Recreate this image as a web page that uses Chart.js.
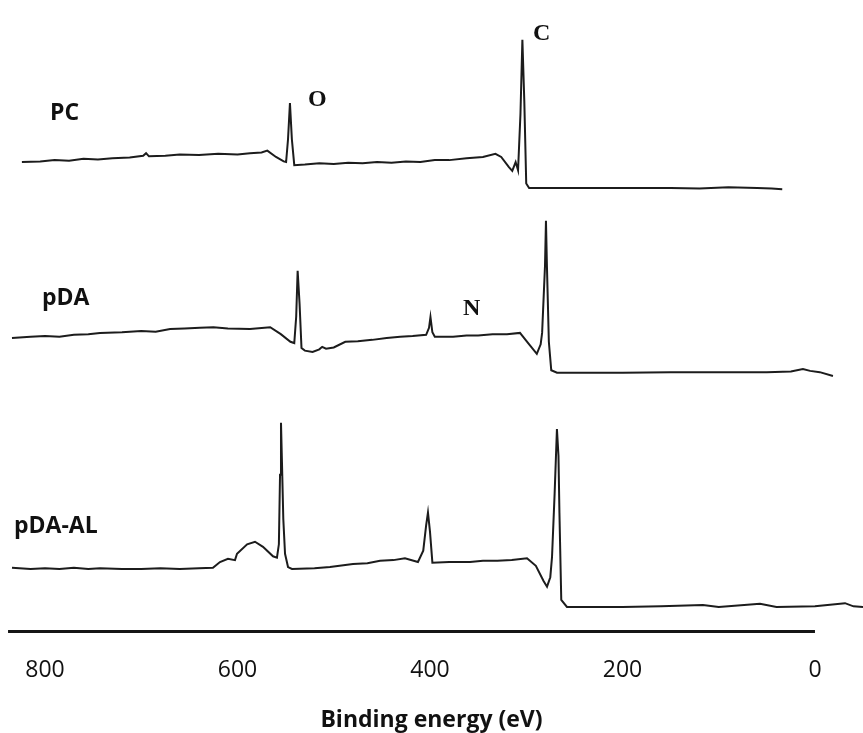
<!DOCTYPE html>
<html>
<head>
<meta charset="utf-8">
<title>XPS survey spectra</title>
<script src="https://cdn.jsdelivr.net/npm/chart.js@4.4.1/dist/chart.umd.min.js"></script>
<style>
  html, body { margin: 0; padding: 0; background: #fff; }
  #wrap { width: 863px; height: 733px; }
</style>
</head>
<body>
<div id="wrap"><canvas id="xpsChart" width="863" height="733"></canvas></div>
<script>
// survey spectra, [binding energy (eV), intensity (a.u., stacked)]
const pcSpectrum = [
  [824, 74.4], [805, 74.5], [790, 74.7], [775, 74.6], [760, 74.9], [745, 74.8], [730, 75.0],
  [712, 75.1], [698, 75.4], [695, 75.8], [692, 75.3], [675, 75.4], [660, 75.6], [640, 75.5],
  [620, 75.7], [600, 75.6], [587, 75.8], [575, 75.9], [569, 76.2], [560, 75.2], [552, 74.5],
  [549.5, 74.4], [547.5, 78.0], [545.5, 83.7], [543.5, 78.0], [541, 73.9], [530, 74.0],
  [515, 74.2], [500, 74.1], [485, 74.3], [470, 74.2], [455, 74.4], [440, 74.3], [425, 74.5],
  [410, 74.4], [395, 74.7], [380, 74.7], [362, 75.0], [345, 75.2], [332, 75.7],
  [326, 75.2], [318, 73.6], [314.5, 73.0], [311, 74.4], [308.5, 73.1], [306, 82.0],
  [304, 93.7], [302, 84.0], [300, 71.0], [297, 70.3], [250, 70.3], [200, 70.3], [150, 70.3],
  [120, 70.2], [90, 70.4], [60, 70.3], [45, 70.2], [34, 70.1]
];

const pdaSpectrum = [
  [834.3, 46.6], [815, 46.8], [800, 46.9], [785, 46.8], [770, 47.1], [755, 47.2], [742.9, 47.4],
  [720, 47.5], [700, 47.7], [685, 47.6], [670, 48.0], [655, 48.1], [639, 48.2], [625, 48.3],
  [610, 48.1], [587, 48.0], [566, 48.3], [555, 47.2], [545, 46.0], [541, 45.8],
  [539, 50.0], [537.5, 57.2], [535.5, 52.0], [533.5, 45.0], [530, 44.6], [522, 44.4],
  [515, 44.8], [512, 45.2], [508, 44.9], [500, 45.1], [488, 46.0], [475, 46.1], [460, 46.3],
  [445, 46.6], [431, 46.8], [418, 46.9], [404, 47.1], [401, 48.2], [399.5, 49.9],
  [397.5, 47.5], [395, 46.8], [376, 46.8], [362, 47.0], [350, 47.0], [335, 47.2], [320, 47.2],
  [306.5, 47.4], [298, 45.8], [289, 44.1], [285, 45.6],
  [283.5, 47.4], [280.5, 58.0], [279.5, 65.1], [278.5, 58.0], [276.5, 46.0], [274, 41.5],
  [268, 41.1], [200, 41.1], [150, 41.2], [100, 41.2], [50, 41.2], [25, 41.3], [12.5, 41.7],
  [5, 41.4], [-5, 41.2], [-18.7, 40.6]
];

const pdaAlSpectrum = [
  [834.3, 10.3], [815, 10.1], [800, 10.2], [785, 10.1], [770, 10.3], [755, 10.1],
  [742.9, 10.2], [720, 10.1], [700, 10.1], [680, 10.2], [660, 10.1], [640, 10.2],
  [625.5, 10.3], [618.2, 11.2], [609.9, 11.7], [602.6, 11.5], [600.5, 12.5], [590, 14.0],
  [581.8, 14.4], [573.5, 13.6], [563.1, 12.1], [559, 11.9], [557, 14.0], [555.8, 25.0],
  [554.8, 33.2], [553.8, 27.0], [552.4, 18.0], [550.6, 12.5], [547.5, 10.4], [543.4, 10.1],
  [520, 10.2], [503.9, 10.4], [480, 10.9], [465, 11.0], [451.9, 11.4], [438, 11.5],
  [426, 11.8], [412.5, 11.2], [407, 13.0], [404, 17.0], [402.1, 19.0], [400, 16.0],
  [397.5, 11.1], [380, 11.2], [358.4, 11.2], [345, 11.4], [330, 11.4], [315, 11.5],
  [299.2, 11.8], [290, 10.6], [282, 8.2], [278.4, 7.3], [275, 8.8],
  [273.2, 12.0], [270.5, 22.0], [268.1, 32.2], [266.5, 28.0], [265.5, 19.0], [263.6, 5.2],
  [257.7, 4.1], [200, 4.1], [160, 4.2], [116.4, 4.4], [100, 4.1], [57.1, 4.6], [40, 4.1],
  [0, 4.2], [-31.2, 4.7], [-40, 4.2], [-49.9, 4.1]
];

const sampleNames = ['PC', 'pDA', 'pDA-AL'];
const energyTicks = [800, 600, 400, 200, 0];

// text placed in data space: [text, energy, intensity]
const sampleLabels = [['PC', 794.8, 81.0], ['pDA', 803.1, 51.8], ['pDA-AL', 832.2, 15.8]];
const elementLabels = [['O', 526.8, 83.3], ['C', 293.0, 93.7], ['N', 365.7, 50.2]];

const toPoints = arr => arr.map(p => ({ x: p[0], y: p[1] }));

const decorations = {
  id: 'decorations',
  afterDatasetsDraw(chart) {
    const c = chart.ctx;
    const xs = chart.scales.x;
    const ys = chart.scales.y;
    const bottom = chart.chartArea.bottom;

    // bottom axis bar
    c.save();
    c.strokeStyle = '#151515';
    c.lineWidth = 3;
    c.beginPath();
    c.moveTo(xs.getPixelForValue(838.4), bottom - 1.5);
    c.lineTo(xs.getPixelForValue(0), bottom - 1.5);
    c.stroke();

    c.fillStyle = '#111';
    c.textAlign = 'left';
    c.textBaseline = 'alphabetic';
    c.font = 'bold 23px "Open Sans"';
    sampleLabels.forEach(l => c.fillText(l[0], xs.getPixelForValue(l[1]), ys.getPixelForValue(l[2])));

    c.font = 'bold 24px "Liberation Serif"';
    elementLabels.forEach(l => c.fillText(l[0], xs.getPixelForValue(l[1]), ys.getPixelForValue(l[2])));
    c.restore();
  }
};

const series = [pcSpectrum, pdaSpectrum, pdaAlSpectrum];

const ctx = document.getElementById('xpsChart').getContext('2d');
const xpsChart = new Chart(ctx, {
  type: 'line',
  data: {
    datasets: series.map((s, i) => ({
      label: sampleNames[i],
      data: toPoints(s),
      borderColor: '#1c1c1c',
      borderWidth: 2,
      pointRadius: 0,
      tension: 0,
      fill: false,
      clip: false
    }))
  },
  options: {
    responsive: false,
    animation: false,
    layout: { padding: 0 },
    plugins: {
      legend: { display: false },
      tooltip: { enabled: false }
    },
    scales: {
      x: {
        type: 'linear',
        reverse: true,
        min: -49.9,
        max: 846.75,
        afterBuildTicks: axis => { axis.ticks = energyTicks.map(v => ({ value: v })); },
        grid: { display: false, drawTicks: false },
        border: { display: false },
        ticks: {
          autoSkip: false,
          maxRotation: 0,
          padding: 24,
          color: '#111',
          font: { family: '"Open Sans"', size: 23, lineHeight: 1.2 }
        },
        title: {
          display: true,
          text: 'Binding energy (eV)',
          color: '#111',
          font: { family: '"Open Sans"', size: 23, weight: 'bold', lineHeight: 1 },
          padding: { top: 0, bottom: 1.5 }
        }
      },
      y: {
        display: false,
        min: 0,
        max: 100
      }
    }
  },
  plugins: [decorations]
});
</script>
</body>
</html>
